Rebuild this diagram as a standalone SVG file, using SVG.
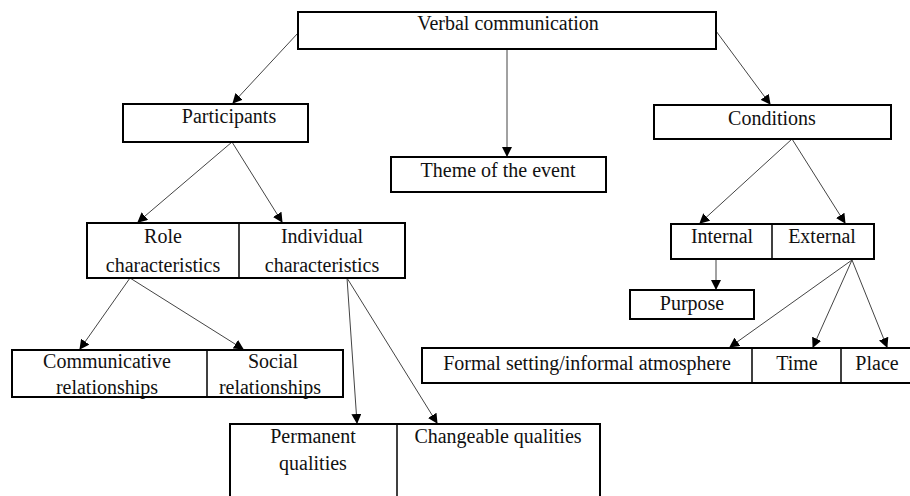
<svg xmlns="http://www.w3.org/2000/svg" width="910" height="496" viewBox="0 0 910 496" font-family="Liberation Serif, Times New Roman, DejaVu Serif, serif">
<style>
.box{fill:#fff;stroke:#000;stroke-width:2}
.div{stroke:#000;stroke-width:1.5}
.t{font-family:'Liberation Serif','Times New Roman','DejaVu Serif',serif;font-size:20px;fill:#111;text-anchor:middle}
.c{stroke:#444;stroke-width:1;fill:none;marker-end:url(#ah)}
</style>
<defs>
<marker id="ah" markerWidth="10" markerHeight="10" refX="9" refY="5" orient="auto" markerUnits="userSpaceOnUse">
<path d="M0,0 L10,5 L0,10 Z" fill="#000"/>
</marker>
</defs>
<rect width="910" height="496" fill="#fff"/>
<g id="connectors">
<line class="c" x1="298" y1="33" x2="233" y2="103"/>
<line class="c" x1="507" y1="49" x2="507" y2="156"/>
<line class="c" x1="716" y1="31" x2="770" y2="104"/>
<line class="c" x1="232" y1="142" x2="138" y2="222"/>
<line class="c" x1="232" y1="142" x2="282" y2="222"/>
<line class="c" x1="792" y1="139" x2="700" y2="223"/>
<line class="c" x1="792" y1="139" x2="845" y2="223"/>
<line class="c" x1="130" y1="278" x2="80" y2="349"/>
<line class="c" x1="130" y1="278" x2="243" y2="349"/>
<line class="c" x1="347" y1="278" x2="357" y2="423"/>
<line class="c" x1="347" y1="278" x2="437" y2="423"/>
<line class="c" x1="716" y1="259" x2="716" y2="289"/>
<line class="c" x1="852" y1="260" x2="730" y2="347"/>
<line class="c" x1="852" y1="260" x2="813" y2="347"/>
<line class="c" x1="852" y1="260" x2="887" y2="347"/>
</g>
<g id="verbal">
<rect class="box" x="298" y="12" width="418" height="37"/>
<text class="t" x="508" y="30">Verbal communication</text>
</g>
<g id="participants">
<rect class="box" x="123" y="104" width="185" height="38"/>
<text class="t" x="229" y="123">Participants</text>
</g>
<g id="theme">
<rect class="box" x="391" y="157" width="215" height="35"/>
<text class="t" x="498" y="177">Theme of the event</text>
</g>
<g id="conditions">
<rect class="box" x="654" y="105" width="237" height="34"/>
<text class="t" x="772" y="125">Conditions</text>
</g>
<g id="role-individual">
<rect class="box" x="87" y="223" width="318" height="55"/>
<line class="div" x1="239" y1="223" x2="239" y2="278"/>
<text class="t" x="163" y="243">Role</text>
<text class="t" x="163" y="272">characteristics</text>
<text class="t" x="322" y="243">Individual</text>
<text class="t" x="322" y="272">characteristics</text>
</g>
<g id="internal-external">
<rect class="box" x="671" y="224" width="203" height="35"/>
<line class="div" x1="772" y1="224" x2="772" y2="259"/>
<text class="t" x="722" y="243">Internal</text>
<text class="t" x="822" y="243">External</text>
</g>
<g id="purpose">
<rect class="box" x="630" y="290" width="124" height="29"/>
<text class="t" x="692" y="310">Purpose</text>
</g>
<g id="relationships">
<rect class="box" x="12" y="350" width="331" height="47"/>
<line class="div" x1="207" y1="350" x2="207" y2="397"/>
<text class="t" x="107" y="368">Communicative</text>
<text class="t" x="107" y="394">relationships</text>
<text class="t" x="273" y="368">Social</text>
<text class="t" x="270" y="394">relationships</text>
</g>
<g id="setting-time-place">
<rect class="box" x="422" y="348" width="500" height="35"/>
<line class="div" x1="752" y1="348" x2="752" y2="383"/>
<line class="div" x1="841" y1="348" x2="841" y2="383"/>
<text class="t" x="587" y="370">Formal setting/informal atmosphere</text>
<text class="t" x="797" y="370">Time</text>
<text class="t" x="877" y="370">Place</text>
</g>
<g id="qualities">
<rect class="box" x="230" y="424" width="370" height="90"/>
<line class="div" x1="397" y1="424" x2="397" y2="500"/>
<text class="t" x="313" y="443">Permanent</text>
<text class="t" x="313" y="470">qualities</text>
<text class="t" x="498" y="443">Changeable qualities</text>
</g>
</svg>
